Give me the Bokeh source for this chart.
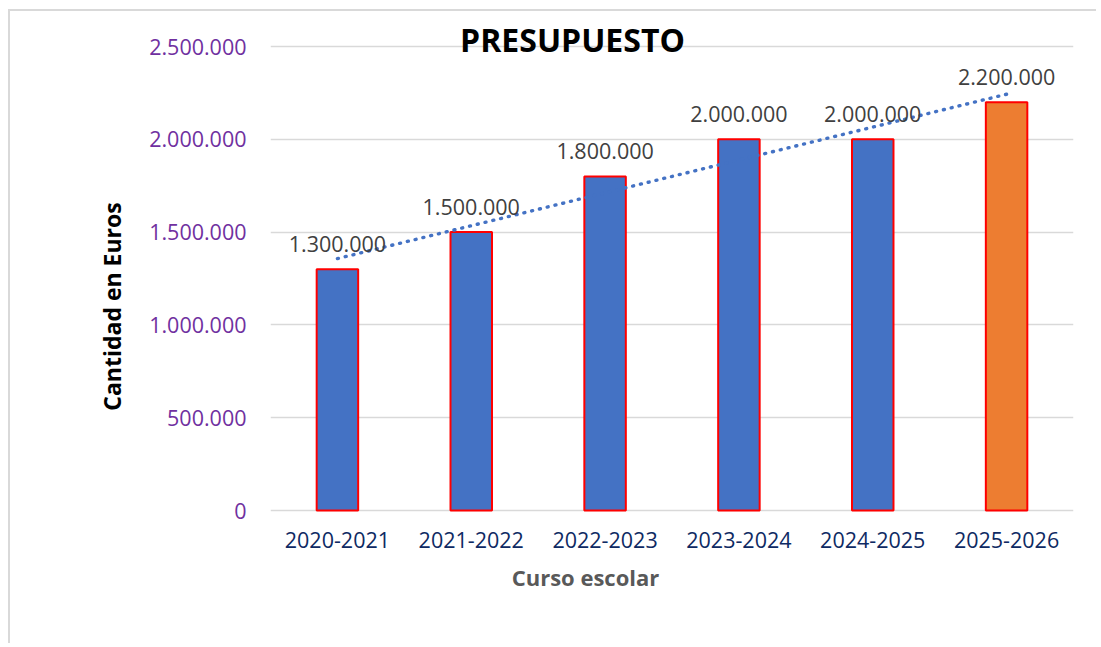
import math
import numpy as np
from bokeh.plotting import figure
from bokeh.models import ColumnDataSource, FixedTicker, Label, LabelSet, Range1d, FactorRange
from bokeh.core.properties import value
from bokeh.embed import file_html
from bokeh.resources import INLINE

# ---- data ----
categories = ["2020-2021", "2021-2022", "2022-2023", "2023-2024", "2024-2025", "2025-2026"]
values = [1300000, 1500000, 1800000, 2000000, 2000000, 2200000]
bar_colors = ["#4472C4", "#4472C4", "#4472C4", "#4472C4", "#4472C4", "#ED7D31"]
y_ticks = [0, 500000, 1000000, 1500000, 2000000, 2500000]
y_tick_labels = ["0", "500.000", "1.000.000", "1.500.000", "2.000.000", "2.500.000"]
title_text = "PRESUPUESTO"
x_title = "Curso escolar"
y_title = "Cantidad en Euros"

def fmt(v):
    return f"{v:,}".replace(",", ".")

labels = [fmt(v) for v in values]

# linear trendline computed from the data
xi = np.arange(len(values))
slope, intercept = np.polyfit(xi, values, 1)
trend = list(slope * xi + intercept)

src = ColumnDataSource(dict(cat=categories, val=values, color=bar_colors, lab=labels, trend=trend))

FONT = "Open Sans"

# layout (pixels inside the figure canvas)
FRAME_TOP, GRID_TOP, GRID_BOTTOM, FRAME_BOTTOM = 0, 35, 499, 590
y_max = y_ticks[-1]
units_per_px = y_max / (GRID_BOTTOM - GRID_TOP)
y_start = -(FRAME_BOTTOM - GRID_BOTTOM) * units_per_px
y_end = y_max + (GRID_TOP - FRAME_TOP) * units_per_px

p = figure(
    x_range=FactorRange(*categories, range_padding=0),
    y_range=Range1d(y_start, y_end),
    width=1088, height=634,
    output_backend="svg", toolbar_location=None,
    min_border_left=260, min_border_right=25, min_border_top=0, min_border_bottom=44,
    styles={"margin-left": "8px", "margin-top": "9px",
            "border-left": "2px solid #d9d9d9", "border-top": "2px solid #d9d9d9"},
)
p.title.visible = False
p.outline_line_color = None
p.background_fill_color = "white"
p.border_fill_color = "white"

p.vbar(x="cat", top="val", width=0.31, source=src, fill_color="color",
       line_color="#FF0000", line_width=2)

p.line(x="cat", y="trend", source=src, line_color="#4472C4", line_width=3.4,
       line_dash="1 7", line_cap="round")

p.add_layout(LabelSet(x="cat", y="val", text="lab", source=src, text_align="center",
                      text_baseline="alphabetic", y_offset=17, text_font=value(FONT),
                      text_font_size="21.5px", text_color="#404040"))

# category labels under the zero line
p.add_layout(LabelSet(x="cat", y=0, text="cat", source=src, text_align="center",
                      text_baseline="alphabetic", y_offset=-37, text_font=value(FONT),
                      text_font_size="21.5px", text_color="#0E2A63"))
p.xaxis.visible = False

# y axis
p.yaxis.ticker = FixedTicker(ticks=y_ticks)
p.yaxis.major_label_overrides = {t: l for t, l in zip(y_ticks, y_tick_labels)}
p.yaxis.axis_line_color = None
p.yaxis.major_tick_line_color = None
p.yaxis.minor_tick_line_color = None
p.yaxis.major_label_standoff = 18
p.yaxis.major_label_text_font = FONT
p.yaxis.major_label_text_font_size = "21.5px"
p.yaxis.major_label_text_color = "#7030A0"
p.yaxis.axis_label = y_title
p.yaxis.axis_label_text_font = FONT
p.yaxis.axis_label_text_font_style = "bold"
p.yaxis.axis_label_text_font_size = "23px"
p.yaxis.axis_label_text_color = "#000000"
p.yaxis.axis_label_standoff = 18

p.xgrid.grid_line_color = None
p.ygrid.ticker = FixedTicker(ticks=y_ticks)
p.ygrid.grid_line_color = "#D9D9D9"
p.ygrid.grid_line_width = 1.5

# titles (screen units relative to frame bottom-left)
p.add_layout(Label(x=302, y=562, x_units="screen", y_units="screen", text=title_text,
                   text_align="center", text_baseline="alphabetic", text_font=FONT,
                   text_font_style="bold", text_font_size="32px", text_color="#000000"))
p.add_layout(Label(x=315, y=25, x_units="screen", y_units="screen", text=x_title,
                   text_align="center", text_baseline="alphabetic", text_font=FONT,
                   text_font_style="bold", text_font_size="22px", text_color="#595959"))

open("out.html", "w").write(file_html(p, INLINE))
